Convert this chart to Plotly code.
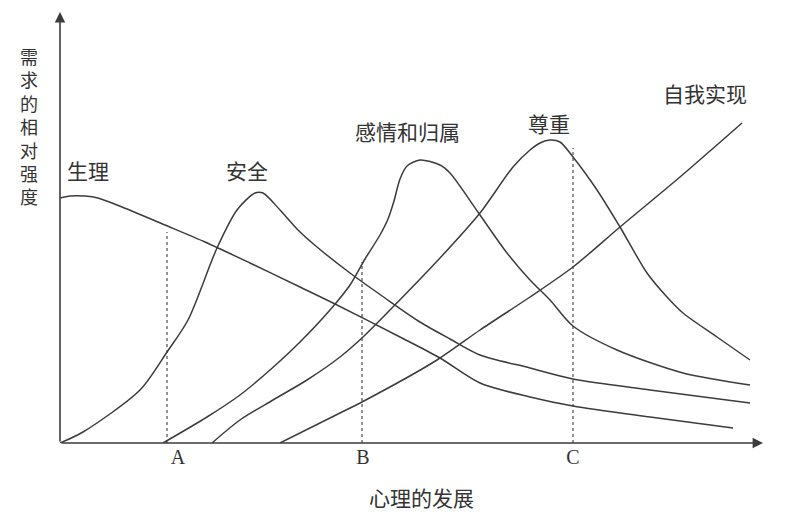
import plotly.graph_objects as go

# ---- data (x: psychological development, y: relative strength of needs) ----
phys_x = [0, 10, 25, 38, 62, 105, 145, 190, 240, 273, 340, 380, 420, 470, 513, 590, 673]
phys_y = [245, 247, 247, 245, 236, 218, 201, 180, 156, 140, 106, 85, 60, 46, 37, 26, 15]

safe_x = [0, 23, 80, 107, 128, 157, 177, 195, 203, 220, 238, 257, 290, 325, 360, 390, 420, 470, 513, 590, 690]
safe_y = [0, 11, 53, 91, 123, 195, 233, 250, 250, 233, 213, 196, 170, 145, 121, 104, 88, 75, 64, 53, 40]

love_x = [103, 147, 180, 210, 240, 270, 290, 305, 320, 328, 334, 340, 347, 360, 380, 390,
          420, 447, 470, 490, 513, 557, 623, 690]
love_y = [0, 26, 48, 73, 101, 133, 158, 184, 208, 224, 242, 264, 277, 283, 278, 270,
          228, 190, 163, 143, 117, 93, 70, 58]

esteem_x = [152, 180, 213, 247, 280, 303, 330, 380, 420, 453, 470, 480, 490, 500, 513, 537, 560,
            587, 607, 623, 657, 690]
esteem_y = [0, 23, 43, 63, 86, 106, 133, 185, 230, 276, 293, 300, 303, 301, 286, 253, 216,
            170, 146, 130, 106, 83]

self_x = [220, 280, 302, 377, 420, 470, 513, 560, 620, 682]
self_y = [0, 30, 41, 83, 113, 146, 176, 216, 266, 320]

stage_x = [107, 302, 513]          # dashed stage markers
stage_top = [211, 181, 295]
tick_pos = [118, 303, 513]
tick_labels = ["A", "B", "C"]

y_title = "需求的相对强度"
x_title = "心理的发展"

series = [
    ("生理", phys_x, phys_y, 28, 273),
    ("安全", safe_x, safe_y, 187, 273),
    ("感情和归属", love_x, love_y, 347, 312),
    ("尊重", esteem_x, esteem_y, 489, 320),
    ("自我实现", self_x, self_y, 645, 350),
]

LINE = "#3c3c3c"
TXT = "#333333"
CJK = "Noto Sans CJK SC"

# layout geometry (page has 8px body margin)
ML, MR, MT, MB = 52, 28, 4, 72
W, H = 780, 507
PH = H - MT - MB

fig = go.Figure()
for name, xs, ys, lx, ly in series:
    fig.add_trace(go.Scatter(x=xs, y=ys, mode="lines", name=name,
                             line=dict(color=LINE, width=1.5, shape="spline", smoothing=0.8),
                             hoverinfo="skip", showlegend=False))
    fig.add_annotation(x=lx, y=ly, text=name, showarrow=False,
                       font=dict(family=CJK, size=21, color=TXT))

for sx, st in zip(stage_x, stage_top):
    fig.add_trace(go.Scatter(x=[sx, sx], y=[0, st], mode="lines",
                             line=dict(color=LINE, width=1.1, dash="dot"),
                             hoverinfo="skip", showlegend=False))

# axes with arrows
fig.add_annotation(x=703, y=0, ax=0, ay=0, xref="x", yref="y", axref="x", ayref="y",
                   showarrow=True, arrowhead=2, arrowsize=1.3, arrowwidth=1.6, arrowcolor=LINE, text="")
fig.add_annotation(x=0, y=431, ax=0, ay=0, xref="x", yref="y", axref="x", ayref="y",
                   showarrow=True, arrowhead=2, arrowsize=1.3, arrowwidth=1.6, arrowcolor=LINE, text="")

# vertical y title (stacked characters)
fig.add_annotation(x=(21 - ML) / 700, y=1 - (126 - 8 - MT) / PH, xref="paper", yref="paper",
                   text="<br>".join(y_title), showarrow=False,
                   xanchor="center", yanchor="middle",
                   font=dict(family=CJK, size=18, color=TXT))

fig.add_annotation(x=(413 - ML) / 700, y=-(489 - MT - PH) / PH, xref="paper", yref="paper",
                   text=x_title, showarrow=False, xanchor="center", yanchor="middle",
                   font=dict(family=CJK, size=21, color=TXT))

fig.update_layout(
    width=W, height=H,
    margin=dict(l=ML, r=MR, t=MT, b=MB),
    paper_bgcolor="white", plot_bgcolor="white",
    xaxis=dict(range=[0, 700], showgrid=False, zeroline=False, showline=False,
               tickmode="array", tickvals=tick_pos, ticktext=tick_labels, ticks="",
               tickfont=dict(family="Liberation Serif", size=20, color=TXT)),
    yaxis=dict(range=[0, 431], showgrid=False, zeroline=False, showline=False,
               showticklabels=False, ticks=""),
)

fig.write_html("out.html")
